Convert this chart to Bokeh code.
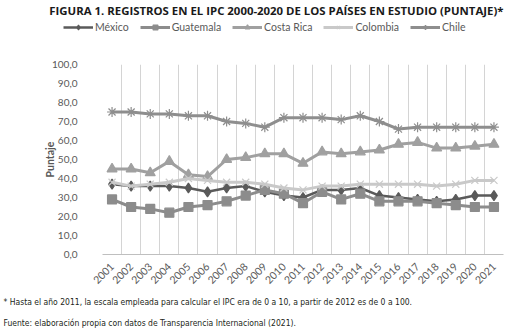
from bokeh.plotting import figure
from bokeh.models import Range1d, FixedTicker, Legend, LegendItem, Label
from bokeh.layouts import column
from bokeh.embed import file_html
from bokeh.resources import INLINE

years = list(range(2001, 2022))
mexico = [37, 36, 36, 36, 35, 33, 35, 36, 33, 31, 30, 34, 34, 35, 31, 30, 29, 28, 29, 31, 31]
guatemala = [29, 25, 24, 22, 25, 26, 28, 31, 34, 32, 27, 33, 29, 32, 28, 28, 28, 27, 26, 25, 25]
costa_rica = [45, 45, 43, 49, 42, 41, 50, 51, 53, 53, 48, 54, 53, 54, 55, 58, 59, 56, 56, 57, 58]
colombia = [38, 36, 37, 38, 40, 39, 38, 38, 37, 35, 34, 36, 36, 37, 37, 37, 37, 36, 37, 39, 39]
chile = [75, 75, 74, 74, 73, 73, 70, 69, 67, 72, 72, 72, 71, 73, 70, 66, 67, 67, 67, 67, 67]
y_ticks = [0, 10, 20, 30, 40, 50, 60, 70, 80, 90, 100]

title_text = "FIGURA 1. REGISTROS EN EL IPC 2000-2020 DE LOS PAÍSES EN ESTUDIO (PUNTAJE)*"
note1 = "* Hasta el año 2011, la escala empleada para calcular el IPC era de 0 a 10, a partir de 2012 es de 0 a 100."
note2 = "Fuente: elaboración propia con datos de Transparencia Internacional (2021)."

FONT = "Lato"
NOTE_FONT = "Liberation Sans Narrow, DejaVu Sans Condensed, Roboto"
W = 511
HEAD_H, MAIN_H, FOOT_H = 40, 250, 41
FL, FR = 102, 503

series = [
    ("México", mexico, "#5a5a5a", "diamond", 10, 2.5),
    ("Guatemala", guatemala, "#8c8c8c", "square", 9, 3),
    ("Costa Rica", costa_rica, "#a0a0a0", "triangle", 10, 3),
    ("Colombia", colombia, "#c9c9c9", "x", 10, 3),
    ("Chile", chile, "#8e8e8e", "asterisk", 10, 3),
]


def blank(h):
    f = figure(width=W, height=h, output_backend="svg", toolbar_location=None,
               x_axis_location=None, y_axis_location=None,
               x_range=Range1d(0, 1), y_range=Range1d(0, 1),
               min_border=0)
    f.frame_align = False
    f.outline_line_color = None
    f.grid.visible = False
    f.background_fill_color = "white"
    f.border_fill_color = "white"
    return f


# ---- header: title + legend
head = blank(HEAD_H)
head.add_layout(Label(x=FR, y=HEAD_H - 10, x_units="screen", y_units="screen", text=title_text,
                      text_align="right", text_baseline="middle", text_font="Open Sans",
                      text_font_style="bold", text_font_size="11.4px", text_color="#1a1a1a"))

# ---- main chart
p = figure(width=W, height=MAIN_H, output_backend="svg", toolbar_location=None,
           x_range=Range1d(years[0] - 0.5, years[-1] + 0.5), y_range=Range1d(0, 100),
           min_border_left=FL, min_border_right=W - FR, min_border_top=24, min_border_bottom=35)
p.outline_line_color = None
p.background_fill_color = "white"
p.border_fill_color = "white"

items = []
for name, vals, col, mk, sz, lw in series:
    p.line(years, vals, line_color=col, line_width=lw)
    p.scatter(years, vals, marker=mk, size=sz, fill_color=col, line_color=col, line_width=1.2)
    # legend proxies in the header (their points lie outside the header's view)
    l1 = head.line(x=years[:2], y=vals[:2], line_color=col, line_width=lw)
    l2 = head.scatter(x=years[:1], y=vals[:1], marker=mk, size=sz - 1, fill_color=col,
                      line_color=col, line_width=1.2)
    items.append(LegendItem(label=name, renderers=[l1, l2]))

legend = Legend(items=items, orientation="horizontal", location=(63, HEAD_H - 33),
                label_text_font=FONT, label_text_font_size="10.5px", label_text_color="#595959",
                glyph_width=30, glyph_height=12, label_height=12, label_standoff=2, spacing=11,
                padding=0, margin=0, border_line_color=None, background_fill_alpha=0)
head.add_layout(legend, "center")

p.xaxis.ticker = FixedTicker(ticks=years)
p.xaxis.major_label_orientation = 0.785
p.xaxis.major_tick_line_color = None
p.xaxis.minor_tick_line_color = None
p.xaxis.axis_line_color = "#bfbfbf"
p.xaxis.major_label_text_font = FONT
p.xaxis.major_label_text_font_size = "10.5px"
p.xaxis.major_label_text_color = "#595959"
p.xaxis.major_label_standoff = 4

p.yaxis.ticker = FixedTicker(ticks=y_ticks)
p.yaxis.major_label_overrides = {t: f"{t},0" for t in y_ticks}
p.yaxis.major_tick_line_color = None
p.yaxis.minor_tick_line_color = None
p.yaxis.axis_line_color = None
p.yaxis.major_label_text_font = FONT
p.yaxis.major_label_text_font_size = "10px"
p.yaxis.major_label_text_color = "#595959"
p.yaxis.major_label_standoff = 19
p.yaxis.axis_label = "Puntaje"
p.yaxis.axis_label_text_font = FONT
p.yaxis.axis_label_text_font_style = "bold"
p.yaxis.axis_label_text_font_size = "10.5px"
p.yaxis.axis_label_text_color = "#595959"
p.yaxis.axis_label_standoff = -7

p.ygrid.grid_line_color = None
p.xgrid.ticker = FixedTicker(ticks=[y - 0.5 for y in years] + [years[-1] + 0.5])
p.xgrid.grid_line_color = "#d4d4d4"
p.xgrid.grid_line_width = 1

# ---- footer: notes
foot = blank(FOOT_H)
for txt, ypix in [(note1, 11), (note2, 32)]:
    foot.add_layout(Label(x=3, y=FOOT_H - ypix, x_units="screen", y_units="screen", text=txt,
                          text_align="left", text_baseline="middle", text_font=NOTE_FONT,
                          text_font_size="8.5px", text_color="#231f20"))

layout = column(head, p, foot, spacing=0)
open("out.html", "w").write(file_html(layout, INLINE))
